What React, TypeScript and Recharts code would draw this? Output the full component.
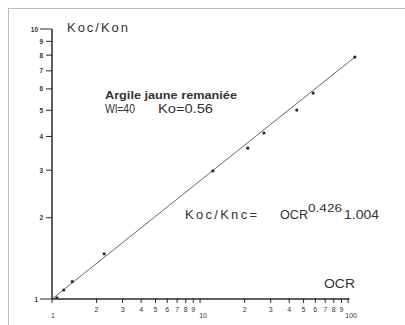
import React from 'react';
import { ComposedChart, Line, Scatter, XAxis, YAxis, ReferenceLine } from 'recharts';

// measured points (OCR vs Koc/Knc)
const ocrValues = [1.08, 1.2, 1.37, 2.25, 12.2, 21, 27, 45, 58, 111];
const ratioValues = [1.01, 1.08, 1.16, 1.47, 2.98, 3.62, 4.12, 5.01, 5.79, 7.87];
// fitted line end points
const fitOcr = [1, 111];
const fitRatio = [1, 7.87];
// tick values
const xTicks = [1, 2, 3, 4, 5, 6, 7, 8, 9, 10, 20, 30, 40, 50, 60, 70, 80, 90, 100];
const yTicks = [1, 2, 3, 4, 5, 6, 7, 8, 9, 10];

const points = ocrValues.map((x, i) => ({ x, y: ratioValues[i] }));
const fit = fitOcr.map((x, i) => ({ x, y: fitRatio[i] }));

const FONT = '"Liberation Sans", Arial, sans-serif';
const INK = '#2a2a2a';
const TXT = '#333';

const XTick = (props: any) => {
  const { x, y, payload } = props;
  const v = payload.value as number;
  const decade = v === 1 || v === 10 || v === 100;
  const label = decade ? String(v) : String(Math.round(v / Math.pow(10, Math.floor(Math.log10(v) + 1e-9))));
  const dx = v === 1 ? 1 : decade ? 3 : 0;
  return (
    <g>
      <line x1={x} x2={x} y1={y - 1} y2={y + 4} stroke={INK} strokeWidth={1} />
      <text x={x + dx} y={y + (decade ? 19 : 13)} textAnchor="middle" fontSize={7} fontFamily={FONT} fill={TXT}>
        {label}
      </text>
    </g>
  );
};

const YTick = (props: any) => {
  const { x, y, payload } = props;
  const v = payload.value as number;
  const long = v === 1 || v === 10;
  return (
    <g>
      <line x1={x - (long ? 12 : 6)} x2={x} y1={y} y2={y} stroke={INK} strokeWidth={1} />
      <text x={long ? x - 14 : x - 9} y={y + 2.5} textAnchor="end" fontSize={6.5} fontWeight="bold" fontFamily={FONT} fill={TXT}>
        {v}
      </text>
    </g>
  );
};

const Dot = (props: any) => {
  const { cx, cy } = props;
  return <circle cx={cx} cy={cy} r={1.6} fill={INK} />;
};

export default function App() {
  return (
    <div style={{ position: 'fixed', left: 0, top: 0, width: 405, height: 325, background: '#fff', overflow: 'hidden' }}>
      <div
        style={{
          position: 'absolute',
          left: 8,
          top: 8,
          width: 397,
          height: 317,
          borderTop: '1px solid #bdbdbd',
          borderLeft: '1px solid #bdbdbd',
        }}
      />
      <div style={{ position: 'absolute', left: 0, top: 0 }}>
        <ComposedChart width={405} height={325} margin={{ top: 29, right: 5, bottom: 0, left: 0 }}>
          <XAxis
            type="number"
            dataKey="x"
            scale="log"
            domain={[1, 224]}
            allowDataOverflow
            ticks={xTicks}
            interval={0}
            height={26}
            axisLine={false}
            tickLine={false}
            tickSize={0}
            tickMargin={0}
            tick={<XTick />}
          />
          <YAxis
            type="number"
            dataKey="y"
            scale="log"
            domain={[1, 10]}
            allowDataOverflow
            ticks={yTicks}
            interval={0}
            width={52}
            axisLine={{ stroke: INK, strokeWidth: 1.5 }}
            tickLine={false}
            tickSize={0}
            tickMargin={0}
            tick={<YTick />}
          />
          <ReferenceLine
            segment={[{ x: 1, y: 1 }, { x: 102, y: 1 }]}
            stroke={INK}
            strokeWidth={1.5}
          />
          <Line
            data={fit}
            dataKey="y"
            stroke="#666"
            strokeWidth={1}
            dot={false}
            isAnimationActive={false}
          />
          <Scatter data={points} dataKey="y" shape={<Dot />} isAnimationActive={false} />
        </ComposedChart>
      </div>
      <svg width={405} height={325} style={{ position: 'absolute', left: 0, top: 0, pointerEvents: 'none' }}>
        <g fontFamily={FONT} fill={TXT}>
          <text x={67} y={32} fontSize={13} textLength={61} lengthAdjust="spacing">Koc/Kon</text>
          <text x={105} y={99} fontSize={10.5} fontWeight="bold" textLength={132} lengthAdjust="spacingAndGlyphs">
            Argile jaune remaniée
          </text>
          <text x={105} y={113} fontSize={12} textLength={30} lengthAdjust="spacingAndGlyphs">Wl=40</text>
          <text x={158} y={113} fontSize={12} textLength={55} lengthAdjust="spacingAndGlyphs">Ko=0.56</text>
          <text x={185} y={219} fontSize={13} textLength={72} lengthAdjust="spacing">Koc/Knc=</text>
          <text x={280} y={219} fontSize={12.5} textLength={28} lengthAdjust="spacingAndGlyphs">OCR</text>
          <text x={308} y={212} fontSize={10.5} textLength={34} lengthAdjust="spacingAndGlyphs">0.426</text>
          <text x={344} y={219} fontSize={12.5} textLength={35} lengthAdjust="spacingAndGlyphs">1.004</text>
          <text x={324} y={288} fontSize={12.5} textLength={31} lengthAdjust="spacingAndGlyphs">OCR</text>
        </g>
      </svg>
    </div>
  );
}
